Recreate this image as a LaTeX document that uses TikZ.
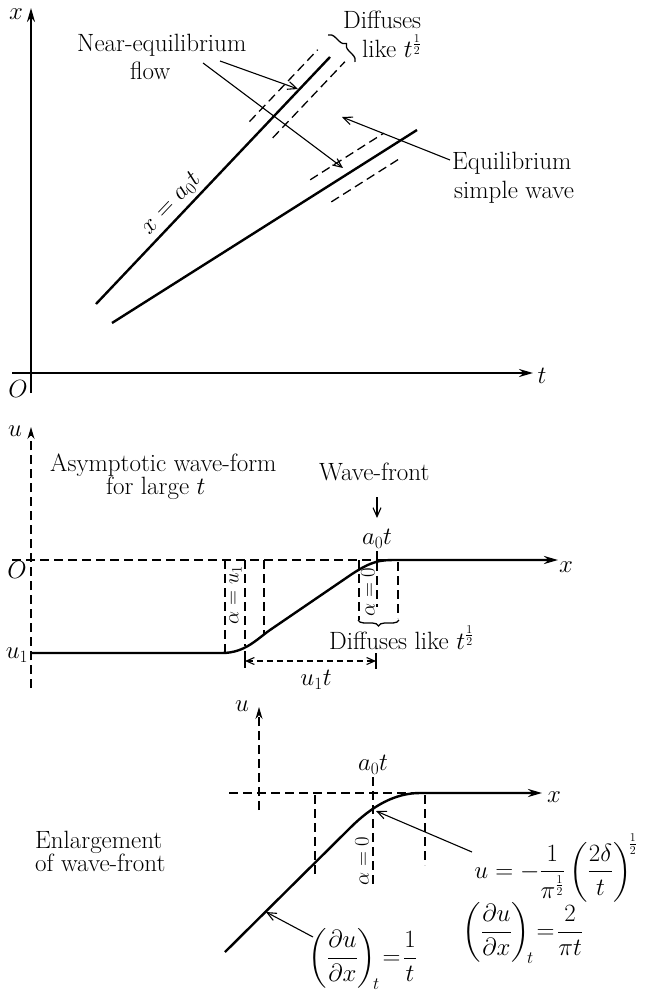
\documentclass[tikz,border=0pt]{standalone}
\usepackage{amsmath}
\usetikzlibrary{arrows.meta,decorations.pathreplacing}
\begin{document}
\begin{tikzpicture}[x=1pt,y=-1pt,
  every node/.style={font=\fontsize{25}{29}\selectfont, inner sep=0pt},
  axisline/.style={line width=2pt,-{Stealth[length=14pt,width=8pt]}},
  dashaxis/.style={line width=1.3pt,dash pattern=on 9pt off 5pt,-{Stealth[length=12pt,width=7pt]}},
  mycurve/.style={line width=2.4pt},
  dsh/.style={line width=1.3pt,dash pattern=on 9pt off 5pt},
  thinarrow/.style={line width=1.1pt,-{Straight Barb[length=9pt,width=8pt]}},
  bracestyle/.style={line width=1.3pt,decorate},
  rlabel/.style={font=\fontsize{22}{26}\selectfont},
  formula/.style={font=\fontsize{23}{27}\selectfont}
  ]
\useasboundingbox (0,0) rectangle (650,995);

% ---------------- top panel ----------------
\coordinate (xa0) at (31,393); \coordinate (xa1) at (31,8);
\coordinate (ta0) at (12,373); \coordinate (ta1) at (533,373);
\draw[axisline] (xa0) -- (xa1);
\draw[axisline] (ta0) -- (ta1);
\node (lx) at (16,14) {$x$};
\node (lt) at (542,376) {$t$};
\node (lO) at (18,389) {$O$};

\coordinate (L1a) at (96,304); \coordinate (L1b) at (330,57);
\draw[mycurve] (L1a) -- (L1b);
\coordinate (D1a) at (249.5,121.6); \coordinate (D1b) at (317.7,49.7);
\coordinate (D2a) at (272.7,137.9); \coordinate (D2b) at (344.9,61.7);
\draw[dsh] (D1a) -- (D1b);
\draw[dsh] (D2a) -- (D2b);

\coordinate (L2a) at (112,323); \coordinate (L2b) at (417,130);
\draw[mycurve] (L2a) -- (L2b);
\coordinate (D3a) at (310.2,179.8); \coordinate (D3b) at (383.7,133.2);
\coordinate (D4a) at (331.3,201.9); \coordinate (D4b) at (401.4,157.5);
\draw[dsh] (D3a) -- (D3b);
\draw[dsh] (D4a) -- (D4b);

\coordinate (Br1) at (328,35); \coordinate (Br2) at (355,62);
\draw[bracestyle,decoration={brace,amplitude=7pt}] (Br1) -- (Br2);

\node[anchor=base west] (ne1) at (77,52) {Near-equilibrium};
\node[anchor=base west] (ne2) at (130,80) {flow};
\node[anchor=base west] (df1) at (343,29) {Diffuses};
\node[anchor=base west] (df2) at (362,58) {like $t^{\frac{1}{2}}$};
\node[anchor=base west] (eq1) at (452,170) {Equilibrium};
\node[anchor=base west] (eq2) at (454,199) {simple wave};
\node[rotate=46.5,anchor=south,inner sep=1pt] (xlab) at (179,211) {$x=a_0t$};

\coordinate (a1s) at (220,61); \coordinate (a1e) at (298,89);
\coordinate (a2s) at (203,63); \coordinate (a2e) at (343,168);
\coordinate (a3s) at (450,160); \coordinate (a3e) at (342,117);
\draw[thinarrow] (a1s) -- (a1e);
\draw[thinarrow] (a2s) -- (a2e);
\draw[thinarrow] (a3s) -- (a3e);

% ---------------- middle panel ----------------
\coordinate (ua0) at (31,688); \coordinate (ua1) at (31,427);
\draw[dashaxis] (ua0) -- (ua1);
\node (lu) at (15,431) {$u$};
\node (lO2) at (17,570) {$O$};
\node (lu1) at (17,655) {$u_1$};

\coordinate (h0) at (12,560); \coordinate (h1) at (390,560);
\draw[dsh] (h0) -- (h1);

\coordinate (c0) at (31,653); \coordinate (cx) at (558,560);
\draw[mycurve,-{Stealth[length=14pt,width=8pt]}] (c0) -- (222,653)
  .. controls (245,653) and (257,639) .. (270,630) -- (352,574)
  .. controls (372,561) and (380,560) .. (395,560) -- (cx);
\node (lx2) at (566,567) {$x$};

\coordinate (v1a) at (225,560); \coordinate (v1b) at (225,653);
\coordinate (v2a) at (245,560); \coordinate (v2b) at (245,646);
\coordinate (v3a) at (264,560); \coordinate (v3b) at (264,634);
\coordinate (v4a) at (359,560); \coordinate (v4b) at (359,620);
\coordinate (v5a) at (377,562); \coordinate (v5b) at (377,607);
\coordinate (v6a) at (398,562); \coordinate (v6b) at (398,618);
\foreach \i in {1,...,6} {\draw[dsh] (v\i a) -- (v\i b);}
\coordinate (tk0) at (377,551); \coordinate (tk1) at (377,560);
\draw[line width=1.3pt] (tk0) -- (tk1);

\node[rlabel,rotate=90] (al1) at (235.5,595) {$\alpha=u_1$};
\node[rlabel,rotate=90] (al0) at (368,592) {$\alpha=0$};

\coordinate (Br3) at (358,620); \coordinate (Br4) at (399,620);
\draw[bracestyle,decoration={brace,mirror,amplitude=6pt}] (Br3) -- (Br4);
\node[anchor=base west] (df3) at (329,649) {Diffuses like $t^{\frac{1}{2}}$};

\node[anchor=base west] (as1) at (50,471) {Asymptotic wave-form};
\node[anchor=base west] (as2) at (106,494) {for large $t$};
\node[anchor=base west] (wf) at (319,480) {Wave-front};
\coordinate (wfa) at (377,497); \coordinate (wfb) at (377,518);
\draw[thinarrow] (wfa) -- (wfb);
\node (a0t) at (377,539) {$a_0t$};

\coordinate (ut0) at (245,661); \coordinate (ut1) at (376,661);
\draw[line width=1.1pt,dash pattern=on 6pt off 4pt,{Straight Barb[length=8pt,width=7pt]}-{Straight Barb[length=8pt,width=7pt]}] (ut0) -- (ut1);
\draw[line width=1.2pt] (245,651) -- (245,668);
\draw[line width=1.2pt] (376,653) -- (376,669);
\node (u1t) at (316,680) {$u_1t$};

% ---------------- bottom panel ----------------
\coordinate (ub0) at (259,810); \coordinate (ub1) at (259,707);
\draw[dashaxis] (ub0) -- (ub1);
\node (lu3) at (242,706) {$u$};
\coordinate (hb0) at (229,793); \coordinate (hb1) at (420,793);
\draw[dsh] (hb0) -- (hb1);
\coordinate (cb0) at (225,952); \coordinate (cbx) at (542,793);
\draw[mycurve,-{Stealth[length=14pt,width=8pt]}] (cb0) -- (350,828)
  .. controls (372,806) and (395,793) .. (420,793) -- (cbx);
\node (lx3) at (554,797) {$x$};
\node (a0t3) at (373,765) {$a_0t$};

\coordinate (w1a) at (373,777); \coordinate (w1b) at (373,887);
\coordinate (w2a) at (315,795); \coordinate (w2b) at (315,875);
\coordinate (w3a) at (425,795); \coordinate (w3b) at (425,865);
\draw[dsh] (w1a) -- (w1b);
\draw[dsh] (w2a) -- (w2b);
\draw[dsh] (w3a) -- (w3b);
\node[rlabel,rotate=90] (al3) at (362,861) {$\alpha=0$};

\node[anchor=base west] (en1) at (35,848) {Enlargement};
\node[anchor=base west] (en2) at (35,871) {of wave-front};

\node[formula] (f1) at (556,868) {$u=-\dfrac{1}{\pi^{\frac{1}{2}}}\left(\dfrac{2\delta}{t}\right)^{\!\frac{1}{2}}$};
\node[formula] (f2) at (523,933) {$\left(\dfrac{\partial u}{\partial x}\right)_{\!t}\!=\!\dfrac{2}{\pi t}$};
\node[formula] (f3) at (363,959) {$\left(\dfrac{\partial u}{\partial x}\right)_{\!t}\!=\!\dfrac{1}{t}$};

\coordinate (b1s) at (472,852); \coordinate (b1e) at (376,811);
\draw[thinarrow] (b1s) -- (b1e);
\coordinate (b2s) at (313,937); \coordinate (b2e) at (266,912);
\draw[thinarrow] (b2s) -- (b2e);
\end{tikzpicture}
\end{document}
